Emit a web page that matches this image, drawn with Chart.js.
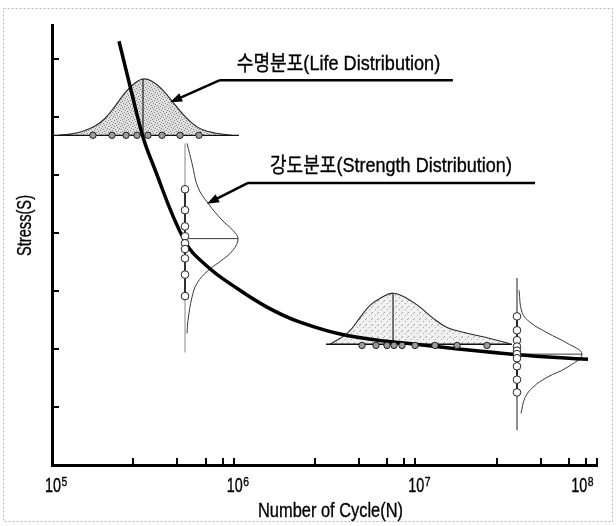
<!DOCTYPE html>
<html><head><meta charset="utf-8">
<script src="https://cdn.jsdelivr.net/npm/chart.js@4/dist/chart.umd.min.js"></script>
<style>html,body{margin:0;padding:0;background:#fff}canvas{display:block}</style>
</head><body>
<canvas id="c" width="616" height="526"></canvas>
<script>
// ---------- data (cycles N on log axis, stress S in arbitrary units) ----------
const xTickValues = [1e5, 2.8e5, 4.9e5, 7e5, 8.7e5, 1e6, 2.8e6, 4.9e6, 7e6, 8.7e6, 1e7, 2.8e7, 4.9e7, 7e7, 8.7e7, 1e8];
const xLabelValues = [1e5, 1e6, 1e7, 1e8];
const xLabelBase = '10';
const xLabelExp = ['5', '6', '7', '8'];
const yTickValues = [1, 2, 3, 4, 5, 6, 7];
const xTitle = 'Number of Cycle(N)';
const yTitle = 'Stress(S)';

// S-N curve
const snCycles = [2.338e5, 2.722e5, 3.169e5, 3.552e5, 5.397e5, 7.224e5, 9.915e5, 1.526e6, 2.318e6, 4.206e6, 9.959e6, 3.537e7, 8.925e7];
const snStress = [7.30, 6.46, 5.65, 5.22, 3.85, 3.41, 3.09, 2.72, 2.46, 2.23, 2.08, 1.905, 1.82];

// life distribution 1 (upper left)
const life1Cycles = [1.079e5, 1.256e5, 1.481e5, 1.724e5, 1.957e5, 2.222e5, 2.522e5, 2.863e5, 3.169e5, 3.552e5, 4.032e5, 4.577e5, 5.196e5, 5.897e5, 6.695e5, 7.892e5, 9.79e5];
const life1Stress = [5.68, 5.70, 5.75, 5.84, 5.97, 6.18, 6.41, 6.58, 6.65, 6.61, 6.47, 6.27, 6.06, 5.89, 5.78, 5.72, 5.68];
const life1Level = 5.68;
const life1Span = [1.013e5, 1.069e6];
const life1Tests = [1.681e5, 2.139e5, 2.555e5, 2.937e5, 3.376e5, 4.032e5, 5.066e5, 6.446e5];

// strength distribution 1
const str1Cycle = 5.397e5;
const str1Span = [5.54, 1.94];
const str1Tests = [4.75, 4.39, 4.11, 3.94, 3.82, 3.72, 3.56, 3.28, 2.91];
const str1CurveCycles = [5.535e5, 5.897e5, 6.365e5, 7.224e5, 8.626e5, 9.915e5, 1.057e6, 9.915e5, 8.626e5, 7.224e5, 6.284e5, 5.897e5, 5.606e5, 5.535e5];
const str1CurveStress = [5.54, 5.20, 4.78, 4.51, 4.22, 4.04, 3.90, 3.70, 3.53, 3.35, 3.13, 2.89, 2.49, 2.27];

// life distribution 2 (lower right)
const life2Cycles = [3.391e6, 4.259e6, 4.959e6, 5.63e6, 6.554e6, 7.538e6, 8.999e6, 1.061e7, 1.251e7, 1.494e7, 1.925e7, 2.576e7, 3.32e7];
const life2Stress = [2.08, 2.28, 2.54, 2.75, 2.89, 2.96, 2.87, 2.72, 2.53, 2.37, 2.27, 2.18, 2.09];
const life2Level = 2.08;
const life2Span = [3.224e6, 3.405e7];
const life2Tests = [5.086e6, 6.074e6, 6.982e6, 7.633e6, 8.447e6, 9.959e6, 1.283e7, 1.696e7, 2.48e7];

// strength distribution 2
const str2Cycle = 3.627e7;
const str2Span = [3.22, 0.60];
const str2Tests = [2.56, 2.32, 2.15, 2.04, 1.97, 1.91, 1.84, 1.70, 1.47, 1.25];
const str2CurveCycles = [3.721e7, 3.866e7, 4.278e7, 5.306e7, 6.837e7, 8.27e7, 6.837e7, 5.306e7, 4.444e7, 4.016e7, 3.816e7];
const str2CurveStress = [3.01, 2.63, 2.46, 2.28, 2.10, 1.91, 1.68, 1.51, 1.34, 1.16, 0.89];

// annotations
const noteTexts = ['수명분포(Life Distribution)', '강도분포(Strength Distribution)'];
const noteLeft = [1.04e6, 1.585e6];
const noteRight = [1.37e7, 3.4e7];
const noteMidS = [6.93, 5.17];
const leaderFrom = [8.4e5, 1.2e6];
const leaderTo = [1.61e7, 4.56e7];
const leaderS = [6.63, 4.86];
const arrowTipN = [4.47e5, 7.13e5];
const arrowTipS = [6.25, 4.50];

// ---------- helpers ----------
const zip = (xs, ys) => xs.map((x, i) => ({x: x, y: ys[i]}));
const col = (x, ys) => ys.map(y => ({x: x, y: y}));
const row = (xs, y) => xs.map(x => ({x: x, y: y}));
const peakIdx = arr => arr.indexOf(Math.max(...arr));

const canvas = document.getElementById('c');
const ctx = canvas.getContext('2d');

function stipple(bg, dot, spots) {
  const p = document.createElement('canvas');
  p.width = 6; p.height = 6;
  const g = p.getContext('2d');
  g.fillStyle = bg; g.fillRect(0, 0, 6, 6);
  g.fillStyle = dot;
  spots.forEach(s => g.fillRect(s[0], s[1], 1, 1));
  return ctx.createPattern(p, 'repeat');
}
const fill1 = stipple('#dedede', '#888888', [[0,0],[3,1],[1,3],[4,4],[5,2],[2,5]]);
const fill2 = stipple('#f0f0f0', '#a6a6a6', [[0,0],[3,3],[5,1]]);

const FONT = '"Liberation Sans", Arial, "Noto Sans CJK KR", sans-serif';
function fitText(c, text, x, yBase, size, width) {
  c.font = size + 'px ' + FONT;
  const w = c.measureText(text).width;
  const s = width / w;
  c.save();
  c.translate(x, yBase);
  c.scale(s, 1);
  c.textAlign = 'left';
  c.textBaseline = 'alphabetic';
  c.fillText(text, 0, 0);
  c.lineWidth = 0.35;
  c.strokeStyle = '#000';
  c.strokeText(text, 0, 0);
  c.restore();
}
function arrow(c, x1, y1, x2, y2) {
  const ang = Math.atan2(y2 - y1, x2 - x1);
  const L = 12, W = 4.5;
  c.beginPath();
  c.moveTo(x1, y1);
  c.lineTo(x2 - L * 0.8 * Math.cos(ang), y2 - L * 0.8 * Math.sin(ang));
  c.stroke();
  c.beginPath();
  c.moveTo(x2, y2);
  c.lineTo(x2 - L * Math.cos(ang) + W * Math.sin(ang), y2 - L * Math.sin(ang) - W * Math.cos(ang));
  c.lineTo(x2 - L * Math.cos(ang) - W * Math.sin(ang), y2 - L * Math.sin(ang) + W * Math.cos(ang));
  c.closePath();
  c.fill();
}

const annotPlugin = {
  id: 'annot',
  beforeDraw(chart) {
    const c = chart.ctx;
    c.save();
    c.fillStyle = '#fff';
    c.fillRect(0, 0, chart.width, chart.height);
    c.strokeStyle = '#b4b4b4';
    c.lineWidth = 1;
    c.setLineDash([2, 2]);
    c.strokeRect(3.5, 8.5, chart.width - 7, chart.height - 13);
    c.restore();
  },
  afterDraw(chart) {
    const c = chart.ctx, xs = chart.scales.x, ys = chart.scales.y, a = chart.chartArea;
    c.save();
    c.setLineDash([]);
    c.strokeStyle = '#000';
    c.fillStyle = '#000';
    c.lineWidth = 2;
    // inward tick marks
    xs.ticks.forEach(t => {
      const p = Math.round(xs.getPixelForValue(t.value));
      if (p <= a.left + 2) return;
      c.beginPath(); c.moveTo(p, a.bottom); c.lineTo(p, a.bottom - 7); c.stroke();
    });
    ys.ticks.forEach(t => {
      const p = Math.round(ys.getPixelForValue(t.value));
      c.beginPath(); c.moveTo(a.left, p); c.lineTo(a.left + 7, p); c.stroke();
    });
    // x tick labels (10 with superscript)
    xLabelValues.forEach((v, i) => {
      const p = xs.getPixelForValue(v);
      c.font = '20px ' + FONT;
      const wb = c.measureText(xLabelBase).width * 0.72;
      c.font = '13px ' + FONT;
      const we = c.measureText(xLabelExp[i]).width * 0.8;
      let left = p + 1 - wb / 2;
      if (left + wb + we > a.right - 4) left = a.right - 4 - wb - we;
      fitText(c, xLabelBase, left, a.bottom + 27, 20, wb);
      fitText(c, xLabelExp[i], left + wb + 0.5, a.bottom + 21, 13, we);
    });
    // axis titles
    fitText(c, xTitle, a.left + 206, a.bottom + 52, 20, 145);
    c.save();
    c.translate(31, a.top + 231);
    c.rotate(-Math.PI / 2);
    fitText(c, yTitle, 0, 0, 20, 61);
    c.restore();
    // annotations
    noteTexts.forEach((t, i) => {
      const l = xs.getPixelForValue(noteLeft[i]);
      const r = xs.getPixelForValue(noteRight[i]);
      const m = ys.getPixelForValue(noteMidS[i]);
      fitText(c, t, l, m + 7.5, 21, r - l);
      c.lineWidth = 2.5;
      const u0 = xs.getPixelForValue(leaderFrom[i]);
      const u1 = xs.getPixelForValue(leaderTo[i]);
      const uy = ys.getPixelForValue(leaderS[i]);
      c.beginPath(); c.moveTo(u0, uy); c.lineTo(u1, uy); c.stroke();
      arrow(c, u0, uy, xs.getPixelForValue(arrowTipN[i]), ys.getPixelForValue(arrowTipS[i]));
    });
    c.restore();
  }
};

const thin = (data, color, w, order, extra) => Object.assign({
  data: data, borderColor: color, borderWidth: w, pointRadius: 0, fill: false, order: order
}, extra || {});
const marks = (data, bg, order, r, lineW) => ({
  data: data, showLine: lineW > 0, borderColor: '#000', borderWidth: lineW,
  pointRadius: r, pointBackgroundColor: bg, pointBorderColor: '#222', pointBorderWidth: 1, order: order
});

const p1 = peakIdx(life1Stress);
const p2 = peakIdx(life2Stress);
const q1 = peakIdx(str1CurveCycles);
const q2 = peakIdx(str2CurveCycles);

new Chart(ctx, {
  type: 'line',
  data: {
    datasets: [
      marks(row(life1Tests, life1Level), '#9c9c9c', 0, 3.2, 0),
      marks(col(str1Cycle, str1Tests), '#ffffff', 0, 3.8, 1.5),
      marks(row(life2Tests, life2Level - 0.02), '#9c9c9c', 0, 3.2, 0),
      marks(col(str2Cycle, str2Tests), '#ffffff', 0, 3.8, 1.5),
      thin(zip(snCycles, snStress), '#000', 3.5, 1, {tension: 0.4}),
      thin(zip(str1CurveCycles, str1CurveStress), '#3a3a3a', 1, 3, {tension: 0.4}),
      thin(row([str1Cycle, str1CurveCycles[q1]], str1CurveStress[q1]), '#3a3a3a', 1, 3),
      thin(zip(str2CurveCycles, str2CurveStress), '#3a3a3a', 1, 3, {tension: 0.4}),
      thin(row([str2Cycle, str2CurveCycles[q2]], str2CurveStress[q2]), '#3a3a3a', 1, 3),
      thin(col(str1Cycle, str1Span), '#9a9a9a', 1.2, 4),
      thin(col(str2Cycle, str2Span), '#444', 1.2, 4),
      thin(row(life1Span, life1Level), '#111', 1.3, 4),
      thin(col(life1Cycles[p1], [life1Stress[p1], life1Level]), '#111', 1.1, 4),
      thin(row(life2Span, life2Level), '#111', 1.3, 4),
      thin(col(life2Cycles[p2], [life2Stress[p2], life2Level]), '#111', 1.1, 4),
      thin(zip(life1Cycles, life1Stress), '#2a2a2a', 1.2, 5, {tension: 0.4, fill: {value: life1Level}, backgroundColor: fill1}),
      thin(zip(life2Cycles, life2Stress), '#2a2a2a', 1.1, 5, {tension: 0.4, fill: {value: life2Level}, backgroundColor: fill2})
    ]
  },
  options: {
    responsive: false,
    animation: false,
    devicePixelRatio: 1,
    events: [],
    layout: {padding: {left: 52, right: 19, top: 25, bottom: 61}},
    plugins: {legend: {display: false}, tooltip: {enabled: false}},
    scales: {
      x: {
        type: 'logarithmic', min: 1e5, max: 1e8, position: 'bottom',
        grid: {display: false, drawTicks: false},
        border: {display: true, color: '#000', width: 3},
        ticks: {display: false},
        title: {display: false, text: xTitle},
        afterBuildTicks: s => { s.ticks = xTickValues.map(v => ({value: v})); }
      },
      y: {
        type: 'linear', min: 0, max: 7.58,
        grid: {display: false, drawTicks: false},
        border: {display: true, color: '#000', width: 3},
        ticks: {display: false},
        title: {display: false, text: yTitle},
        afterBuildTicks: s => { s.ticks = yTickValues.map(v => ({value: v})); }
      }
    }
  },
  plugins: [annotPlugin]
});
</script>
</body></html>
